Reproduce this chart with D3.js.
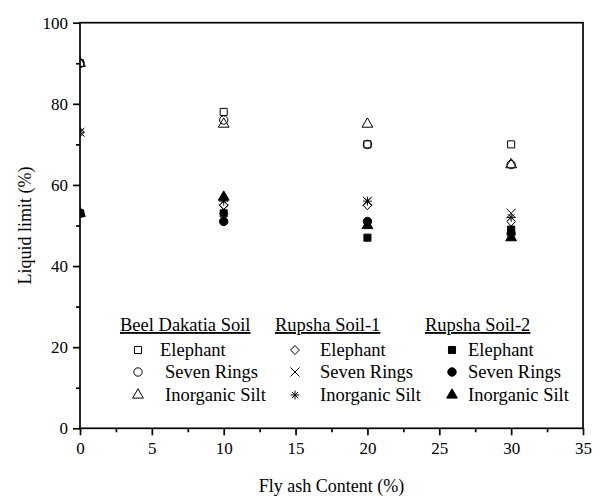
<!DOCTYPE html>
<html>
<head>
<meta charset="utf-8">
<script src="https://cdn.jsdelivr.net/npm/d3@7"></script>
<style>
  html, body { margin: 0; padding: 0; background: #fff; }
  svg { display: block; }
  svg text { font-family: "Liberation Serif", "Times New Roman", serif; fill: #000; }
</style>
</head>
<body>
<svg id="chart" width="609" height="498"></svg>
<script>
// Fly ash content (%) at which liquid limit was measured
const flyAsh = [0, 10, 20, 30];

// Soil groups and fly ash brands
const soils = ["Beel Dakatia Soil", "Rupsha Soil-1", "Rupsha Soil-2"];
const brands = ["Elephant", "Seven Rings", "Inorganic Silt"];

// Liquid limit (%) per soil / brand
const beelElephant     = [90, 78, 70, 70];
const beelSevenRings   = [90, 76, 70, 65];
const beelInorganic    = [90, 75, 75, 65];
const rupsha1Elephant   = [73, 55, 55, 51];
const rupsha1SevenRings = [73, 54, 56, 53];
const rupsha1Inorganic  = [73, 56, 56, 52];
const rupsha2Elephant   = [53, 53, 47, 49];
const rupsha2SevenRings = [53, 51, 51, 48];
const rupsha2Inorganic  = [53, 57, 50, 47];

// Axis ticks
const xTicks = [0, 5, 10, 15, 20, 25, 30, 35];
const yTicks = [0, 20, 40, 60, 80, 100];

const series = [
  { soil: 0, brand: 0, values: beelElephant,      shape: "square",   filled: false },
  { soil: 0, brand: 1, values: beelSevenRings,    shape: "circle",   filled: false },
  { soil: 0, brand: 2, values: beelInorganic,     shape: "triangle", filled: false },
  { soil: 1, brand: 0, values: rupsha1Elephant,   shape: "diamond",  filled: false },
  { soil: 1, brand: 1, values: rupsha1SevenRings, shape: "times",    filled: false },
  { soil: 1, brand: 2, values: rupsha1Inorganic,  shape: "asterisk", filled: false },
  { soil: 2, brand: 0, values: rupsha2Elephant,   shape: "square",   filled: true },
  { soil: 2, brand: 1, values: rupsha2SevenRings, shape: "circle",   filled: true },
  { soil: 2, brand: 2, values: rupsha2Inorganic,  shape: "triangle", filled: true }
];

const FONT = '"Liberation Serif", "Times New Roman", serif';
const svg = d3.select("#chart");
const plotLeft = 80, plotRight = 583, plotTop = 22.7, plotBottom = 428.3;

const x = d3.scaleLinear().domain([0, 35]).range([plotLeft, plotRight]);
const y = d3.scaleLinear().domain([0, 100]).range([plotBottom, plotTop]);

// Symbol generators (with fallbacks for older builds)
const sym = {
  square: d3.symbolSquare,
  circle: d3.symbolCircle,
  triangle: d3.symbolTriangle,
  diamond: d3.symbolDiamond2 || {
    draw(ctx, size) { const r = Math.sqrt(size) * 0.62; ctx.moveTo(0, -r); ctx.lineTo(r, 0); ctx.lineTo(0, r); ctx.lineTo(-r, 0); ctx.closePath(); }
  },
  times: d3.symbolTimes || d3.symbolX || {
    draw(ctx, size) { const r = Math.sqrt(size) * 0.45; ctx.moveTo(-r, -r); ctx.lineTo(r, r); ctx.moveTo(r, -r); ctx.lineTo(-r, r); }
  },
  asterisk: {
    draw(ctx, size) {
      const r = Math.sqrt(size) * 0.55;
      for (let i = 0; i < 4; i++) {
        const a = i * Math.PI / 4;
        ctx.moveTo(-r * Math.sin(a), -r * Math.cos(a));
        ctx.lineTo(r * Math.sin(a), r * Math.cos(a));
      }
    }
  }
};
const symSize = { square: 50, circle: 55, triangle: 50, diamond: 50, times: 55, asterisk: 64 };

function symbolPath(shape) {
  return d3.symbol().type(sym[shape]).size(symSize[shape])();
}

// Clip markers to the plot frame
svg.append("defs").append("clipPath").attr("id", "plot-clip")
  .append("rect").attr("x", plotLeft).attr("y", plotTop)
  .attr("width", plotRight - plotLeft).attr("height", plotBottom - plotTop);

// Markers
const marks = svg.append("g").attr("clip-path", "url(#plot-clip)");
series.forEach(s => {
  marks.selectAll(null)
    .data(s.values.map((v, i) => ({ fa: flyAsh[i], v })))
    .join("path")
    .attr("transform", d => `translate(${x(d.fa)},${y(d.v)})`)
    .attr("d", symbolPath(s.shape))
    .attr("fill", s.filled ? "#000" : "none")
    .attr("stroke", "#000")
    .attr("stroke-width", 1);
});

// Frame
svg.append("rect")
  .attr("x", plotLeft).attr("y", plotTop)
  .attr("width", plotRight - plotLeft).attr("height", plotBottom - plotTop)
  .attr("fill", "none").attr("stroke", "#000").attr("stroke-width", 1.7);

// Bottom axis
const xAxis = svg.append("g").attr("transform", `translate(0,${plotBottom})`)
  .call(d3.axisBottom(x).tickValues(xTicks).tickFormat(d3.format("d")).tickSize(7).tickPadding(7));
xAxis.select(".domain").remove();
xAxis.selectAll(".tick line").attr("stroke-width", 1.7);
xAxis.selectAll(".tick text").attr("font-size", 17).style("font-family", FONT);
svg.append("g").attr("transform", `translate(0,${plotBottom})`)
  .call(d3.axisBottom(x).tickValues(d3.range(2.5, 35, 5)).tickFormat("").tickSize(4))
  .call(g => g.select(".domain").remove())
  .selectAll(".tick line").attr("stroke-width", 1.7);

// Left axis
const yAxis = svg.append("g").attr("transform", `translate(${plotLeft},0)`)
  .call(d3.axisLeft(y).tickValues(yTicks).tickFormat(d3.format("d")).tickSize(7).tickPadding(5));
yAxis.select(".domain").remove();
yAxis.selectAll(".tick line").attr("stroke-width", 1.7);
yAxis.selectAll(".tick text").attr("font-size", 17).style("font-family", FONT);
svg.append("g").attr("transform", `translate(${plotLeft},0)`)
  .call(d3.axisLeft(y).tickValues(d3.range(10, 100, 20)).tickFormat("").tickSize(4))
  .call(g => g.select(".domain").remove())
  .selectAll(".tick line").attr("stroke-width", 1.7);

// Axis titles
svg.append("text")
  .attr("x", (plotLeft + plotRight) / 2).attr("y", 492)
  .attr("text-anchor", "middle").attr("font-size", 18).style("font-family", FONT)
  .text("Fly ash Content (%)");
svg.append("text")
  .attr("transform", `translate(31,${(plotTop + plotBottom) / 2}) rotate(-90)`)
  .attr("text-anchor", "middle").attr("font-size", 18).style("font-family", FONT)
  .text("Liquid limit (%)");

// Legend
const legendCols = [
  { header: 120, sym: 138, text: [160, 165, 165] },
  { header: 275, sym: 295, text: [320, 320, 320] },
  { header: 425, sym: 452, text: [468, 468, 468] }
];
const rowY = [350, 372, 395];
const legend = svg.append("g");
soils.forEach((name, si) => {
  const col = legendCols[si];
  legend.append("text")
    .attr("x", col.header).attr("y", 331)
    .attr("font-size", 18.5).style("font-family", FONT)
    .attr("text-decoration", "underline")
    .text(name);
  series.filter(s => s.soil === si).forEach(s => {
    legend.append("path")
      .attr("transform", `translate(${col.sym},${rowY[s.brand]})`)
      .attr("d", symbolPath(s.shape))
      .attr("fill", s.filled ? "#000" : "none")
      .attr("stroke", "#000").attr("stroke-width", 1);
    legend.append("text")
      .attr("x", col.text[s.brand]).attr("y", rowY[s.brand] + 6)
      .attr("font-size", 18.5).style("font-family", FONT)
      .text(brands[s.brand]);
  });
});
</script>
</body>
</html>
